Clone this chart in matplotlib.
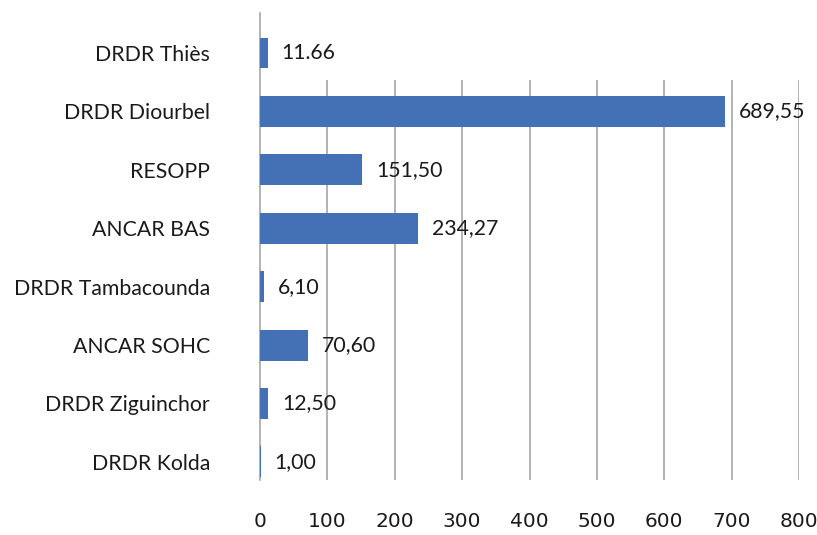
import matplotlib
matplotlib.use("Agg")
import matplotlib.pyplot as plt

# données
categories = ["DRDR Thiès", "DRDR Diourbel", "RESOPP", "ANCAR BAS",
              "DRDR Tambacounda", "ANCAR SOHC", "DRDR Ziguinchor", "DRDR Kolda"]
values = [11.66, 689.55, 151.50, 234.27, 6.10, 70.60, 12.50, 1.00]
value_labels = ["11.66", "689,55", "151,50", "234,27", "6,10", "70,60", "12,50", "1,00"]
xticks = [0, 100, 200, 300, 400, 500, 600, 700, 800]

bar_color = "#4470B6"
grid_color = "#A6A6A6"

fig = plt.figure(figsize=(8.17, 5.35), dpi=100)
ax = fig.add_axes([260 / 817, 1 - 480 / 535, (799 - 260) / 817, (480 - 13) / 535])

ypos = list(range(len(categories)))
ax.barh(ypos, values, height=0.53, color=bar_color, zorder=3)

ax.set_xlim(0, 800)
ax.set_ylim(7.31, -0.685)

# grille verticale (ne monte pas jusqu'à la première barre)
ax.vlines(xticks[1:], 0.46, 7.31, color=grid_color, lw=1.2, zorder=1)

for s in ["top", "right", "bottom"]:
    ax.spines[s].set_visible(False)
ax.spines["left"].set_color(grid_color)
ax.spines["left"].set_linewidth(1.2)

ax.set_yticks(ypos)
ax.set_yticklabels(categories, fontsize=15.3, family="Lato", color="#1a1a1a")
ax.tick_params(axis="y", length=0, pad=36)

ax.set_xticks(xticks)
ax.set_xticklabels([str(t) for t in xticks], fontsize=14.5,
                   family=["Liberation Sans Narrow", "DejaVu Sans"], color="#1a1a1a")
ax.tick_params(axis="x", length=0, pad=23)

for y, v, lab in zip(ypos, values, value_labels):
    ax.annotate(lab, (v, y), xytext=(10, 0), textcoords="offset points",
                va="center", ha="left", fontsize=15.3, family="Lato", color="#1a1a1a")

fig.savefig("out.png", dpi=100)
